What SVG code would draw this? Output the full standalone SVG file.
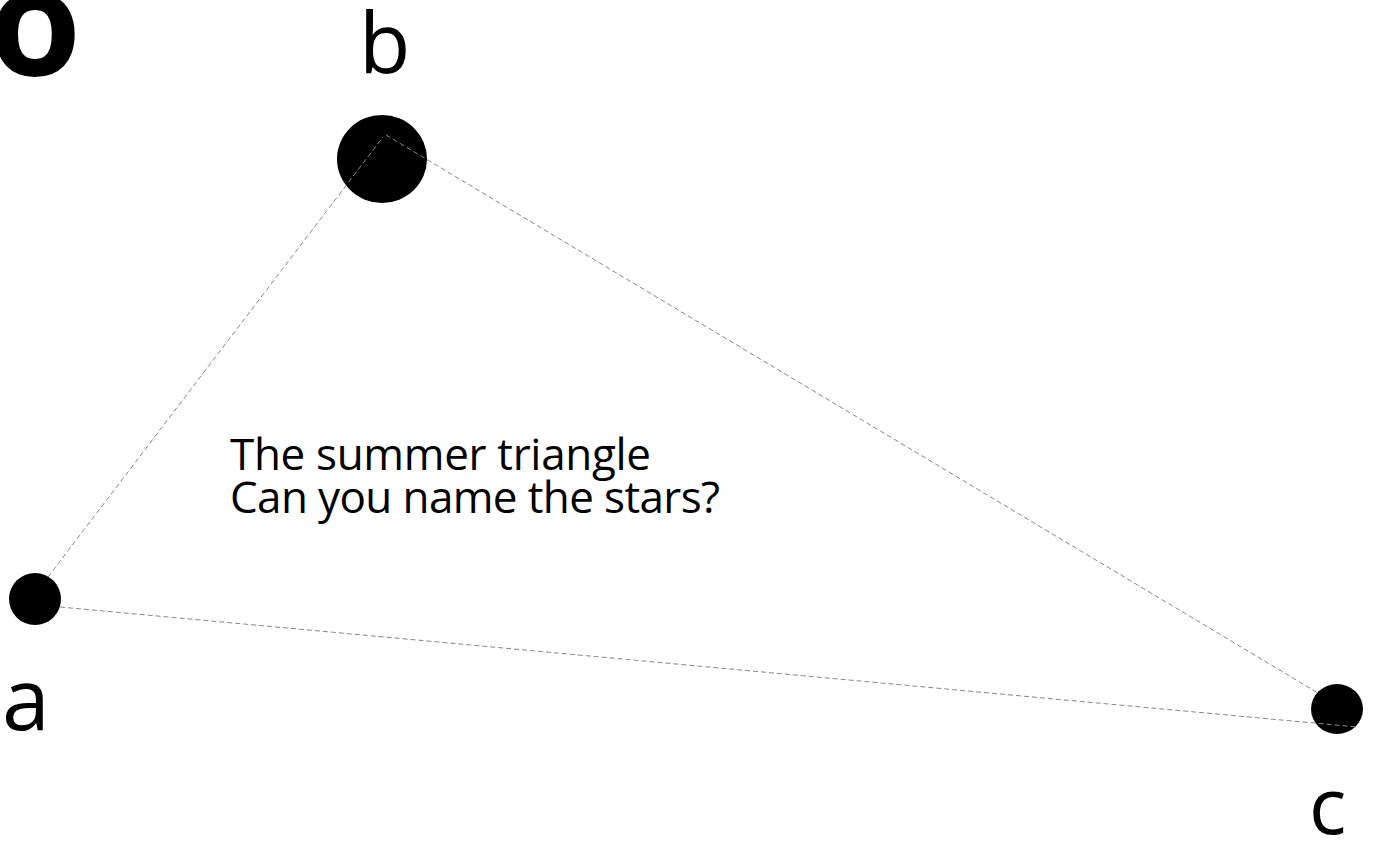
<svg xmlns="http://www.w3.org/2000/svg" width="1373" height="841" viewBox="0 0 1373 841">
<style>
.star{fill:#000}
.edge{stroke:#888;stroke-width:1;stroke-dasharray:5 3;fill:none}
.lbl{font-family:"Open Sans","DejaVu Sans",sans-serif;fill:#000}
</style>
<rect width="1373" height="841" fill="#fff"/>
<g id="corner"><text x="35" y="76" text-anchor="middle" style="font-family:'Open Sans',sans-serif;font-weight:bold;font-size:150px">o</text></g>
<g id="node-a"><circle class="star" cx="35" cy="599" r="26"/><text class="lbl" x="2" y="730" font-size="86">a</text></g>
<g id="node-b"><ellipse class="star" cx="382" cy="159" rx="45" ry="44"/><text class="lbl" x="359" y="73" font-size="84">b</text></g>
<g id="node-c"><ellipse class="star" cx="1337" cy="709" rx="26" ry="25"/><text class="lbl" x="1309" y="834" font-size="78">c</text></g>
<g id="connectors">
<line class="edge" x1="48" y1="577" x2="383" y2="137"/>
<line class="edge" x1="386" y1="135" x2="1318" y2="693"/>
<line class="edge" x1="60" y1="607" x2="1357" y2="727"/>
</g>
<g id="caption">
<text class="lbl" x="230" y="470" font-size="44" textLength="421">The summer triangle</text>
<text class="lbl" x="230" y="513" font-size="44" textLength="490">Can you name the stars?</text>
</g>
</svg>
